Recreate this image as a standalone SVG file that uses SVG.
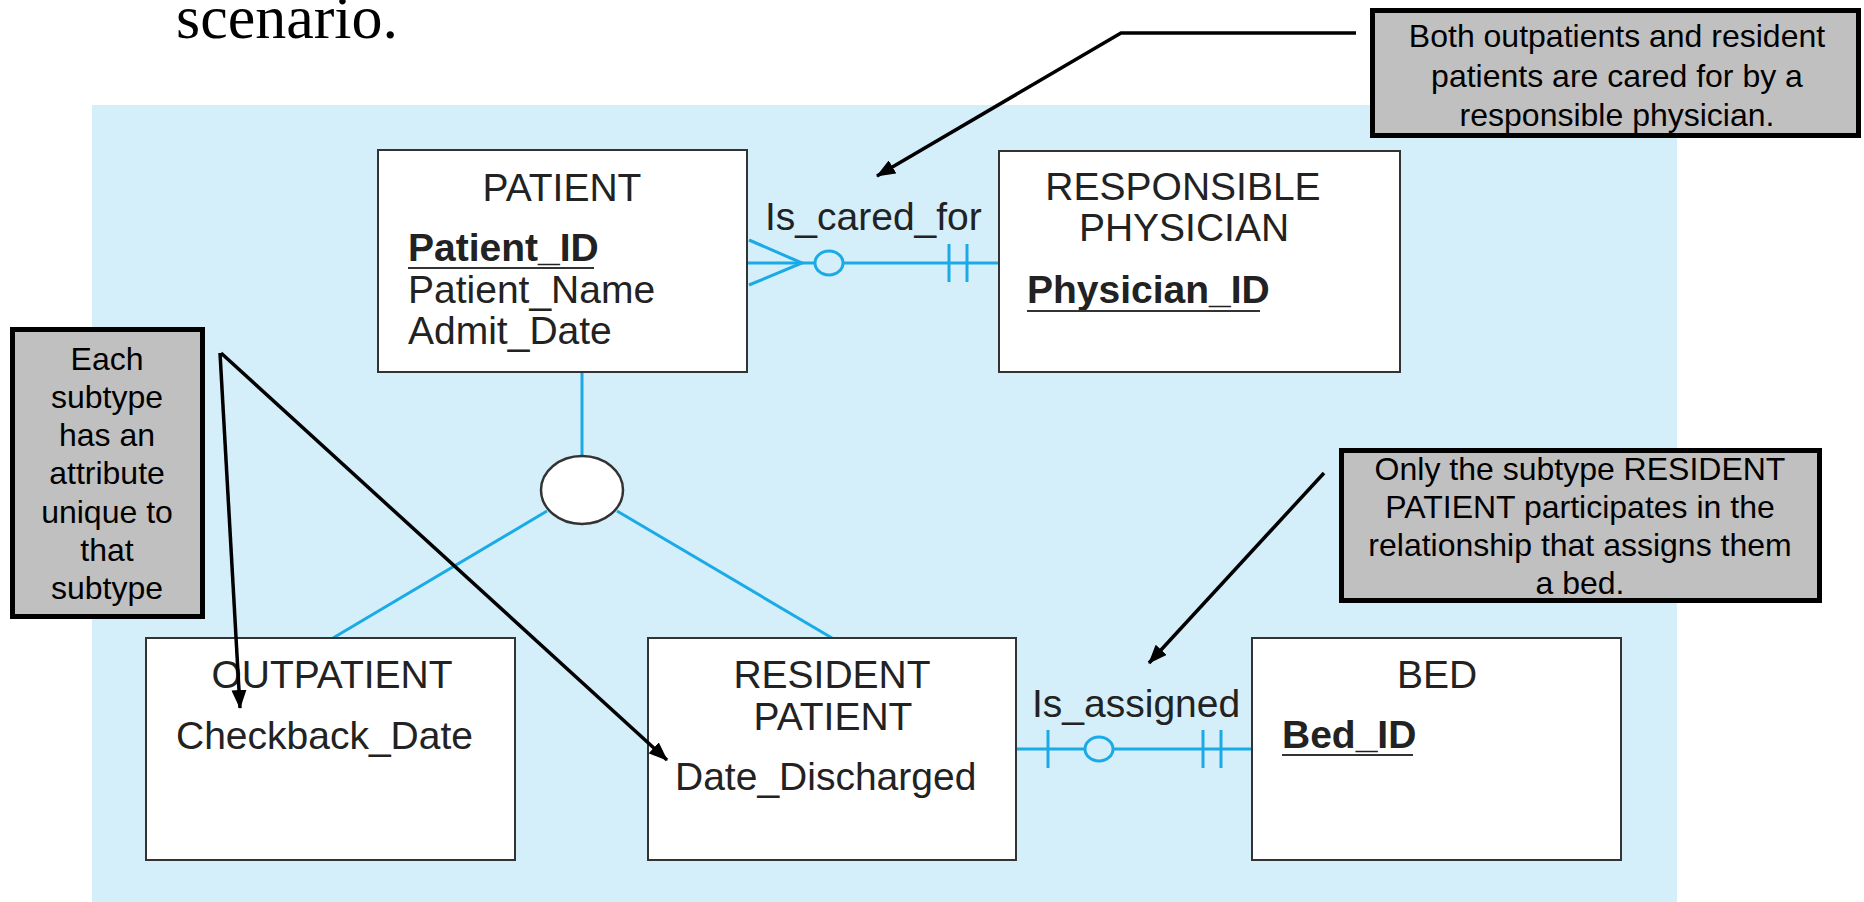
<svg xmlns="http://www.w3.org/2000/svg" width="1864" height="902" viewBox="0 0 1864 902">
<defs>
<style>
.ent{fill:#fff;stroke:#333;stroke-width:2}
.t{font-family:"Liberation Sans",Arial,sans-serif;font-size:39px;fill:#222}
.c{text-anchor:middle}
.b{font-weight:bold}
.ul{stroke:#333;stroke-width:2}
.rel{stroke:#1aabe6;stroke-width:3;fill:none}
.relc{stroke:#1aabe6;stroke-width:3;fill:#d4eefa}
.note{fill:#c0c0c0;stroke:#000;stroke-width:5}
.nt{font-family:"Liberation Sans",Arial,sans-serif;font-size:32px;fill:#000;text-anchor:middle}
.arr{stroke:#000;stroke-width:3.5;fill:none;marker-end:url(#ah)}
</style>
<marker id="ah" viewBox="0 0 19 15" refX="18" refY="7.5" markerWidth="19" markerHeight="15" markerUnits="userSpaceOnUse" orient="auto">
<path d="M0,0 L19,7.5 L0,15 z" fill="#000"/>
</marker>
</defs>
<rect x="0" y="0" width="1864" height="902" fill="#fff"/>
<rect x="92" y="105" width="1585" height="797" fill="#d4eefa"/>
<text x="176" y="38" font-family="'Liberation Serif','Times New Roman',serif" font-size="62" fill="#000">scenario.</text>

<g id="connectors">
<line class="rel" x1="582" y1="372" x2="582" y2="456"/>
<line class="rel" x1="547" y1="511" x2="333" y2="638"/>
<line class="rel" x1="617" y1="511" x2="832" y2="638"/>
<line class="rel" x1="747" y1="263" x2="999" y2="263"/>
<polyline class="rel" points="749,240 802,263 749,285"/>
<ellipse class="relc" cx="829" cy="263" rx="14" ry="12"/>
<line class="rel" x1="949" y1="244" x2="949" y2="282"/>
<line class="rel" x1="967" y1="244" x2="967" y2="282"/>
<text class="t" x="765" y="230">Is_cared_for</text>
<line class="rel" x1="1016" y1="749" x2="1252" y2="749"/>
<line class="rel" x1="1048" y1="730" x2="1048" y2="768"/>
<ellipse class="relc" cx="1099" cy="749" rx="14" ry="12"/>
<line class="rel" x1="1203" y1="730" x2="1203" y2="768"/>
<line class="rel" x1="1221" y1="730" x2="1221" y2="768"/>
<text class="t" x="1032" y="717">Is_assigned</text>
</g>

<g id="subtype-circle">
<ellipse cx="582" cy="490" rx="41" ry="34" fill="#fff" stroke="#333" stroke-width="2.5"/>
</g>

<g id="patient">
<rect class="ent" x="378" y="150" width="369" height="222"/>
<text class="t c" x="562" y="201">PATIENT</text>
<text class="t b" x="408" y="261">Patient_ID</text>
<line class="ul" x1="408" y1="268" x2="594" y2="268"/>
<text class="t" x="408" y="303">Patient_Name</text>
<text class="t" x="408" y="344">Admit_Date</text>
</g>

<g id="physician">
<rect class="ent" x="999" y="151" width="401" height="221"/>
<text class="t c" x="1183" y="200">RESPONSIBLE</text>
<text class="t c" x="1184" y="241">PHYSICIAN</text>
<text class="t b" x="1027" y="303">Physician_ID</text>
<line class="ul" x1="1027" y1="311" x2="1260" y2="311"/>
</g>

<g id="outpatient">
<rect class="ent" x="146" y="638" width="369" height="222"/>
<text class="t c" x="332" y="688">OUTPATIENT</text>
<text class="t" x="176" y="749">Checkback_Date</text>
</g>

<g id="resident">
<rect class="ent" x="648" y="638" width="368" height="222"/>
<text class="t c" x="832" y="688">RESIDENT</text>
<text class="t c" x="833" y="730">PATIENT</text>
<text class="t" x="675" y="790">Date_Discharged</text>
</g>

<g id="bed">
<rect class="ent" x="1252" y="638" width="369" height="222"/>
<text class="t c" x="1437" y="688">BED</text>
<text class="t b" x="1282" y="748">Bed_ID</text>
<line class="ul" x1="1282" y1="755" x2="1413" y2="755"/>
</g>

<g id="note-physician">
<rect class="note" x="1372.5" y="10.5" width="486" height="125"/>
<text class="nt" x="1617" y="47">Both outpatients and resident</text>
<text class="nt" x="1617" y="87">patients are cared for by a</text>
<text class="nt" x="1617" y="126">responsible physician.</text>
</g>

<g id="note-subtype">
<rect class="note" x="12.5" y="329.5" width="190" height="287"/>
<text class="nt" x="107" y="370">Each</text>
<text class="nt" x="107" y="408">subtype</text>
<text class="nt" x="107" y="446">has an</text>
<text class="nt" x="107" y="484">attribute</text>
<text class="nt" x="107" y="523">unique to</text>
<text class="nt" x="107" y="561">that</text>
<text class="nt" x="107" y="599">subtype</text>
</g>

<g id="note-bed">
<rect class="note" x="1341.5" y="450.5" width="478" height="150"/>
<text class="nt" x="1580" y="480">Only the subtype RESIDENT</text>
<text class="nt" x="1580" y="518">PATIENT participates in the</text>
<text class="nt" x="1580" y="556">relationship that assigns them</text>
<text class="nt" x="1580" y="594">a bed.</text>
</g>

<g id="callout-arrows">
<polyline class="arr" points="1356,33 1121,33 877,176"/>
<line class="arr" x1="220" y1="353" x2="240" y2="708"/>
<line class="arr" x1="221" y1="353" x2="667" y2="760"/>
<line class="arr" x1="1324" y1="473" x2="1149" y2="663"/>
</g>
</svg>
